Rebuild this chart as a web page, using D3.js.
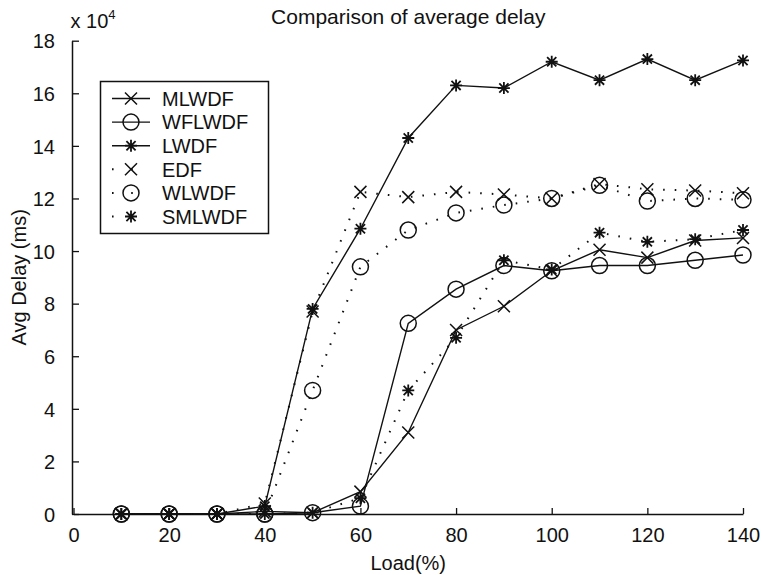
<!DOCTYPE html>
<html>
<head>
<meta charset="utf-8">
<script src="https://cdn.jsdelivr.net/npm/d3@7"></script>
<style>
  html, body { margin: 0; padding: 0; background: #fff; }
  svg { display: block; }
  text { font-family: "Liberation Sans", Arial, Helvetica, sans-serif; fill: #111; }
</style>
</head>
<body>
<svg id="chart" width="762" height="575"></svg>
<script>
// Offered load (%) on the x axis
const loads = [10, 20, 30, 40, 50, 60, 70, 80, 90, 100, 110, 120, 130, 140];

// Average delay per scheduler, in units of 1e4 ms
const mlwdf  = [0, 0, 0, 0.1, 0.05, 0.85, 3.1, 7.0, 7.9, 9.25, 10.05, 9.75, 10.4, 10.5];
const wflwdf = [0, 0, 0, 0, 0.05, 0.3, 7.25, 8.55, 9.45, 9.25, 9.45, 9.45, 9.65, 9.85];
const lwdf   = [0, 0, 0, 0.3, 7.8, 10.85, 14.3, 16.3, 16.2, 17.2, 16.5, 17.3, 16.5, 17.25];
const edf    = [0, 0, 0, 0.4, 7.7, 12.25, 12.05, 12.25, 12.15, 12.0, 12.55, 12.35, 12.3, 12.2];
const wlwdf  = [0, 0, 0, 0, 4.7, 9.4, 10.8, 11.45, 11.75, 12.0, 12.5, 11.9, 12.0, 11.95];
const smlwdf = [0, 0, 0, 0, 0.05, 0.6, 4.7, 6.7, 9.65, 9.3, 10.7, 10.35, 10.45, 10.8];

const seriesNames = ["MLWDF", "WFLWDF", "LWDF", "EDF", "WLWDF", "SMLWDF"];
const seriesValues = [mlwdf, wflwdf, lwdf, edf, wlwdf, smlwdf];
const seriesMarkers = ["x", "o", "*", "x", "o", "*"];
const seriesDotted = [false, false, false, true, true, true];

const xTicks = [0, 20, 40, 60, 80, 100, 120, 140];
const yTicks = [0, 2, 4, 6, 8, 10, 12, 14, 16, 18];

const titleText = "Comparison of average delay";
const xLabel = "Load(%)";
const yLabel = "Avg Delay (ms)";

const svg = d3.select("#chart");

const x = d3.scaleLinear().domain([0, 140]).range([73.5, 743]);
const y = d3.scaleLinear().domain([0, 18]).range([514, 40.7]);

// Axes: left and bottom only, ticks pointing inward
const xAxis = d3.axisBottom(x).tickValues(xTicks).tickSizeInner(-6).tickSizeOuter(0).tickPadding(14);
const yAxis = d3.axisLeft(y).tickValues(yTicks).tickSizeInner(-7).tickSizeOuter(0).tickPadding(17);

const gx = svg.append("g").attr("transform", `translate(0,${y(0)})`).call(xAxis);
const gy = svg.append("g").attr("transform", `translate(${x(0) - 1.5},0)`).call(yAxis);

[gx, gy].forEach(g => {
  g.select(".domain").attr("stroke", "#111").attr("stroke-width", 1.5);
  g.selectAll(".tick line").attr("stroke", "#111").attr("stroke-width", 1.3);
  g.selectAll(".tick text").attr("font-size", 20).attr("fill", "#111")
    .style("font-family", '"Liberation Sans", Arial, sans-serif');
});
gx.selectAll(".tick text").attr("dy", "0.71em");
gy.selectAll(".tick text").attr("dy", "0.36em");

// Exponent label above the y axis
const expo = svg.append("text").attr("x", x(0) - 3).attr("y", 28).attr("font-size", 20);
expo.append("tspan").text("x 10");
expo.append("tspan").attr("font-size", 13).attr("dy", -9).text("4");

// Title and axis labels
svg.append("text").attr("x", (x(0) + x(140)) / 2).attr("y", 24)
  .attr("text-anchor", "middle").attr("font-size", 21).text(titleText);
svg.append("text").attr("x", (x(0) + x(140)) / 2).attr("y", 570)
  .attr("text-anchor", "middle").attr("font-size", 20).text(xLabel);
svg.append("text")
  .attr("transform", `translate(26,${(y(0) + y(18)) / 2}) rotate(-90)`)
  .attr("text-anchor", "middle").attr("font-size", 20).text(yLabel);

// Marker shapes
function drawMarker(g, type, cx, cy) {
  const s = 6;
  if (type === "x") {
    g.append("path")
      .attr("d", `M${cx - s},${cy - s}L${cx + s},${cy + s}M${cx - s},${cy + s}L${cx + s},${cy - s}`)
      .attr("stroke", "#111").attr("stroke-width", 1.5).attr("fill", "none");
  } else if (type === "o") {
    g.append("circle").attr("cx", cx).attr("cy", cy).attr("r", 8)
      .attr("stroke", "#111").attr("stroke-width", 1.5).attr("fill", "none");
  } else {
    const d = 4.6;
    g.append("path")
      .attr("d", `M${cx - s},${cy}L${cx + s},${cy}M${cx},${cy - s}L${cx},${cy + s}` +
                 `M${cx - d},${cy - d}L${cx + d},${cy + d}M${cx - d},${cy + d}L${cx + d},${cy - d}`)
      .attr("stroke", "#111").attr("stroke-width", 1.8).attr("fill", "none");
  }
}

const line = d3.line().x(d => x(d[0])).y(d => y(d[1]));
const plot = svg.append("g");

seriesValues.forEach((vals, i) => {
  const pts = loads.map((l, j) => [l, vals[j]]);
  const path = plot.append("path").datum(pts).attr("d", line)
    .attr("fill", "none").attr("stroke", "#111");
  if (seriesDotted[i]) {
    path.attr("stroke-width", 2).attr("stroke-dasharray", "1.6 10");
  } else {
    path.attr("stroke-width", 1.4);
  }
  pts.forEach(p => drawMarker(plot, seriesMarkers[i], x(p[0]), y(p[1])));
});

// Legend
const lg = svg.append("g");
lg.append("rect").attr("x", 100.5).attr("y", 81.5).attr("width", 168).attr("height", 152)
  .attr("fill", "#fff").attr("stroke", "#111").attr("stroke-width", 1.5);
seriesNames.forEach((name, i) => {
  const ly = 98.5 + i * 23.6;
  if (seriesDotted[i]) {
    lg.append("line").attr("x1", 112).attr("x2", 150).attr("y1", ly).attr("y2", ly)
      .attr("stroke", "#111").attr("stroke-width", 2).attr("stroke-dasharray", "1.6 17.6");
  } else {
    lg.append("line").attr("x1", 112).attr("x2", 150).attr("y1", ly).attr("y2", ly)
      .attr("stroke", "#111").attr("stroke-width", 1.4);
  }
  drawMarker(lg, seriesMarkers[i], 131, ly);
  lg.append("text").attr("x", 162).attr("y", ly).attr("dy", "0.36em")
    .attr("font-size", 20).text(name);
});
</script>
</body>
</html>
